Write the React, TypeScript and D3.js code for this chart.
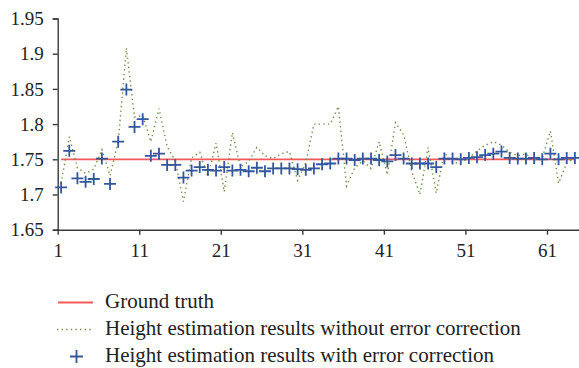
// @ts-nocheck
import { useEffect, useRef } from 'react'
import * as d3 from 'd3'

// sample index 1..64
const samples = d3.range(1, 65)

const groundTruth = 1.75

// height estimation results without error correction (dotted)
const withoutCorrection = [
  1.716, 1.782, 1.738, 1.73, 1.736, 1.764, 1.727, 1.775, 1.908, 1.81,
  1.812, 1.775, 1.822, 1.768, 1.748, 1.69, 1.752, 1.76, 1.725, 1.773,
  1.704, 1.788, 1.739, 1.747, 1.767, 1.755, 1.751, 1.758, 1.761, 1.72,
  1.745, 1.8, 1.8, 1.8, 1.825, 1.712, 1.738, 1.748, 1.737, 1.775,
  1.728, 1.802, 1.785, 1.733, 1.7, 1.767, 1.702, 1.76, 1.745, 1.745,
  1.752, 1.762, 1.77, 1.775, 1.77, 1.76, 1.755, 1.758, 1.748, 1.752,
  1.79, 1.716, 1.745, 1.752,
]

// height estimation results with error correction (+ markers)
const withCorrection = [
  1.71, 1.762, 1.723, 1.718, 1.722, 1.751, 1.715, 1.775, 1.849, 1.796,
  1.807, 1.755, 1.758, 1.742, 1.742, 1.724, 1.734, 1.739, 1.735, 1.734,
  1.739, 1.734, 1.735, 1.733, 1.738, 1.733, 1.737, 1.737, 1.737, 1.736,
  1.735, 1.737, 1.743, 1.744, 1.751, 1.751, 1.749, 1.751, 1.751, 1.749,
  1.747, 1.756, 1.751, 1.744, 1.744, 1.744, 1.739, 1.751, 1.751, 1.75,
  1.752, 1.753, 1.756, 1.758, 1.761, 1.752, 1.751, 1.751, 1.752, 1.75,
  1.758, 1.75, 1.752, 1.752,
]

const yTicks = [1.65, 1.7, 1.75, 1.8, 1.85, 1.9, 1.95]
const xTicks = [1, 11, 21, 31, 41, 51, 61]

const legendLabels = [
  'Ground truth',
  'Height estimation results without error correction',
  'Height estimation results with error correction',
]

const W = 579
const H = 368
const font = 'Liberation Serif, DejaVu Serif, serif'
const red = '#f25a5a'
const green = '#6f8f45'
const blue = '#34569a'
const axisColor = '#3a3a3a'

export default function App() {
  const svgRef = useRef<any>()

  useEffect(() => {
    const svg = d3.select(svgRef.current)
    svg.selectAll('*').remove()

    const x = d3.scaleLinear().domain([1, 65]).range([57.7, 579.6])
    const y = d3.scaleLinear().domain([1.65, 1.95]).range([229.7, 18.5])
    const px = (i) => x(i + 0.42)

    // y axis
    const yAxis = d3.axisLeft(y).tickValues(yTicks).tickSize(5).tickFormat(d3.format('~g'))
    const gy = svg.append('g').attr('transform', `translate(${x(1)},0)`).call(yAxis)
    gy.attr('font-family', font).attr('font-size', 19)
    gy.select('.domain').attr('stroke', axisColor).attr('stroke-width', 1.4)
    gy.selectAll('.tick line').attr('stroke', axisColor).attr('stroke-width', 1.4)
    gy.selectAll('.tick text')
      .style('font-family', font)
      .attr('fill', '#222')
      .attr('x', -14)
      .attr('dy', '0.33em')

    // x axis
    const xAxis = d3.axisBottom(x).tickValues(xTicks).tickSize(5).tickSizeOuter(0)
    const gx = svg.append('g').attr('transform', `translate(0,${y(1.65)})`).call(xAxis)
    gx.attr('font-family', font).attr('font-size', 19)
    gx.select('.domain').attr('stroke', axisColor).attr('stroke-width', 1.4)
    gx.selectAll('.tick line').attr('stroke', axisColor).attr('stroke-width', 1.4)
    gx.selectAll('.tick text')
      .style('font-family', font)
      .attr('fill', '#222')
      .attr('y', 14)
      .attr('dy', '0.71em')

    // ground truth
    svg
      .append('line')
      .attr('x1', px(samples[0]))
      .attr('x2', px(samples[samples.length - 1]))
      .attr('y1', y(groundTruth))
      .attr('y2', y(groundTruth))
      .attr('stroke', red)
      .attr('stroke-width', 1.8)

    // without correction, dotted
    const line = d3
      .line()
      .x((d, i) => px(samples[i]))
      .y((d) => y(d))
    svg
      .append('path')
      .attr('d', line(withoutCorrection))
      .attr('fill', 'none')
      .attr('stroke', green)
      .attr('stroke-width', 1.4)
      .attr('stroke-dasharray', '1.4 3.2')

    // with correction, plus markers
    const plus = (g, cx, cy, r) => {
      g.append('path')
        .attr('d', `M${cx - r},${cy}H${cx + r}M${cx},${cy - r}V${cy + r}`)
        .attr('stroke', blue)
        .attr('stroke-width', 1.8)
        .attr('fill', 'none')
    }
    const gp = svg.append('g')
    withCorrection.forEach((v, i) => plus(gp, px(samples[i]), y(v), 6))

    // legend
    const lg = svg.append('g')
    const rows = [308, 335, 362]
    lg.append('line')
      .attr('x1', 58).attr('x2', 93).attr('y1', rows[0] - 5.5).attr('y2', rows[0] - 5.5)
      .attr('stroke', red).attr('stroke-width', 1.8)
    lg.append('line')
      .attr('x1', 57).attr('x2', 93).attr('y1', rows[1] - 5.5).attr('y2', rows[1] - 5.5)
      .attr('stroke', green).attr('stroke-width', 1.4).attr('stroke-dasharray', '1.4 3.2')
    plus(lg, 76.5, rows[2] - 5.5, 6.5)
    lg.selectAll('text')
      .data(legendLabels)
      .enter()
      .append('text')
      .attr('x', 105)
      .attr('y', (d, i) => rows[i])
      .style('font-family', font)
      .attr('font-size', 21)
      .attr('fill', '#222')
      .text((d) => d)
  }, [])

  return (
    <svg
      ref={svgRef}
      width={W}
      height={H}
      style={{ position: 'absolute', left: 0, top: 0, background: '#fff' }}
    ></svg>
  )
}
